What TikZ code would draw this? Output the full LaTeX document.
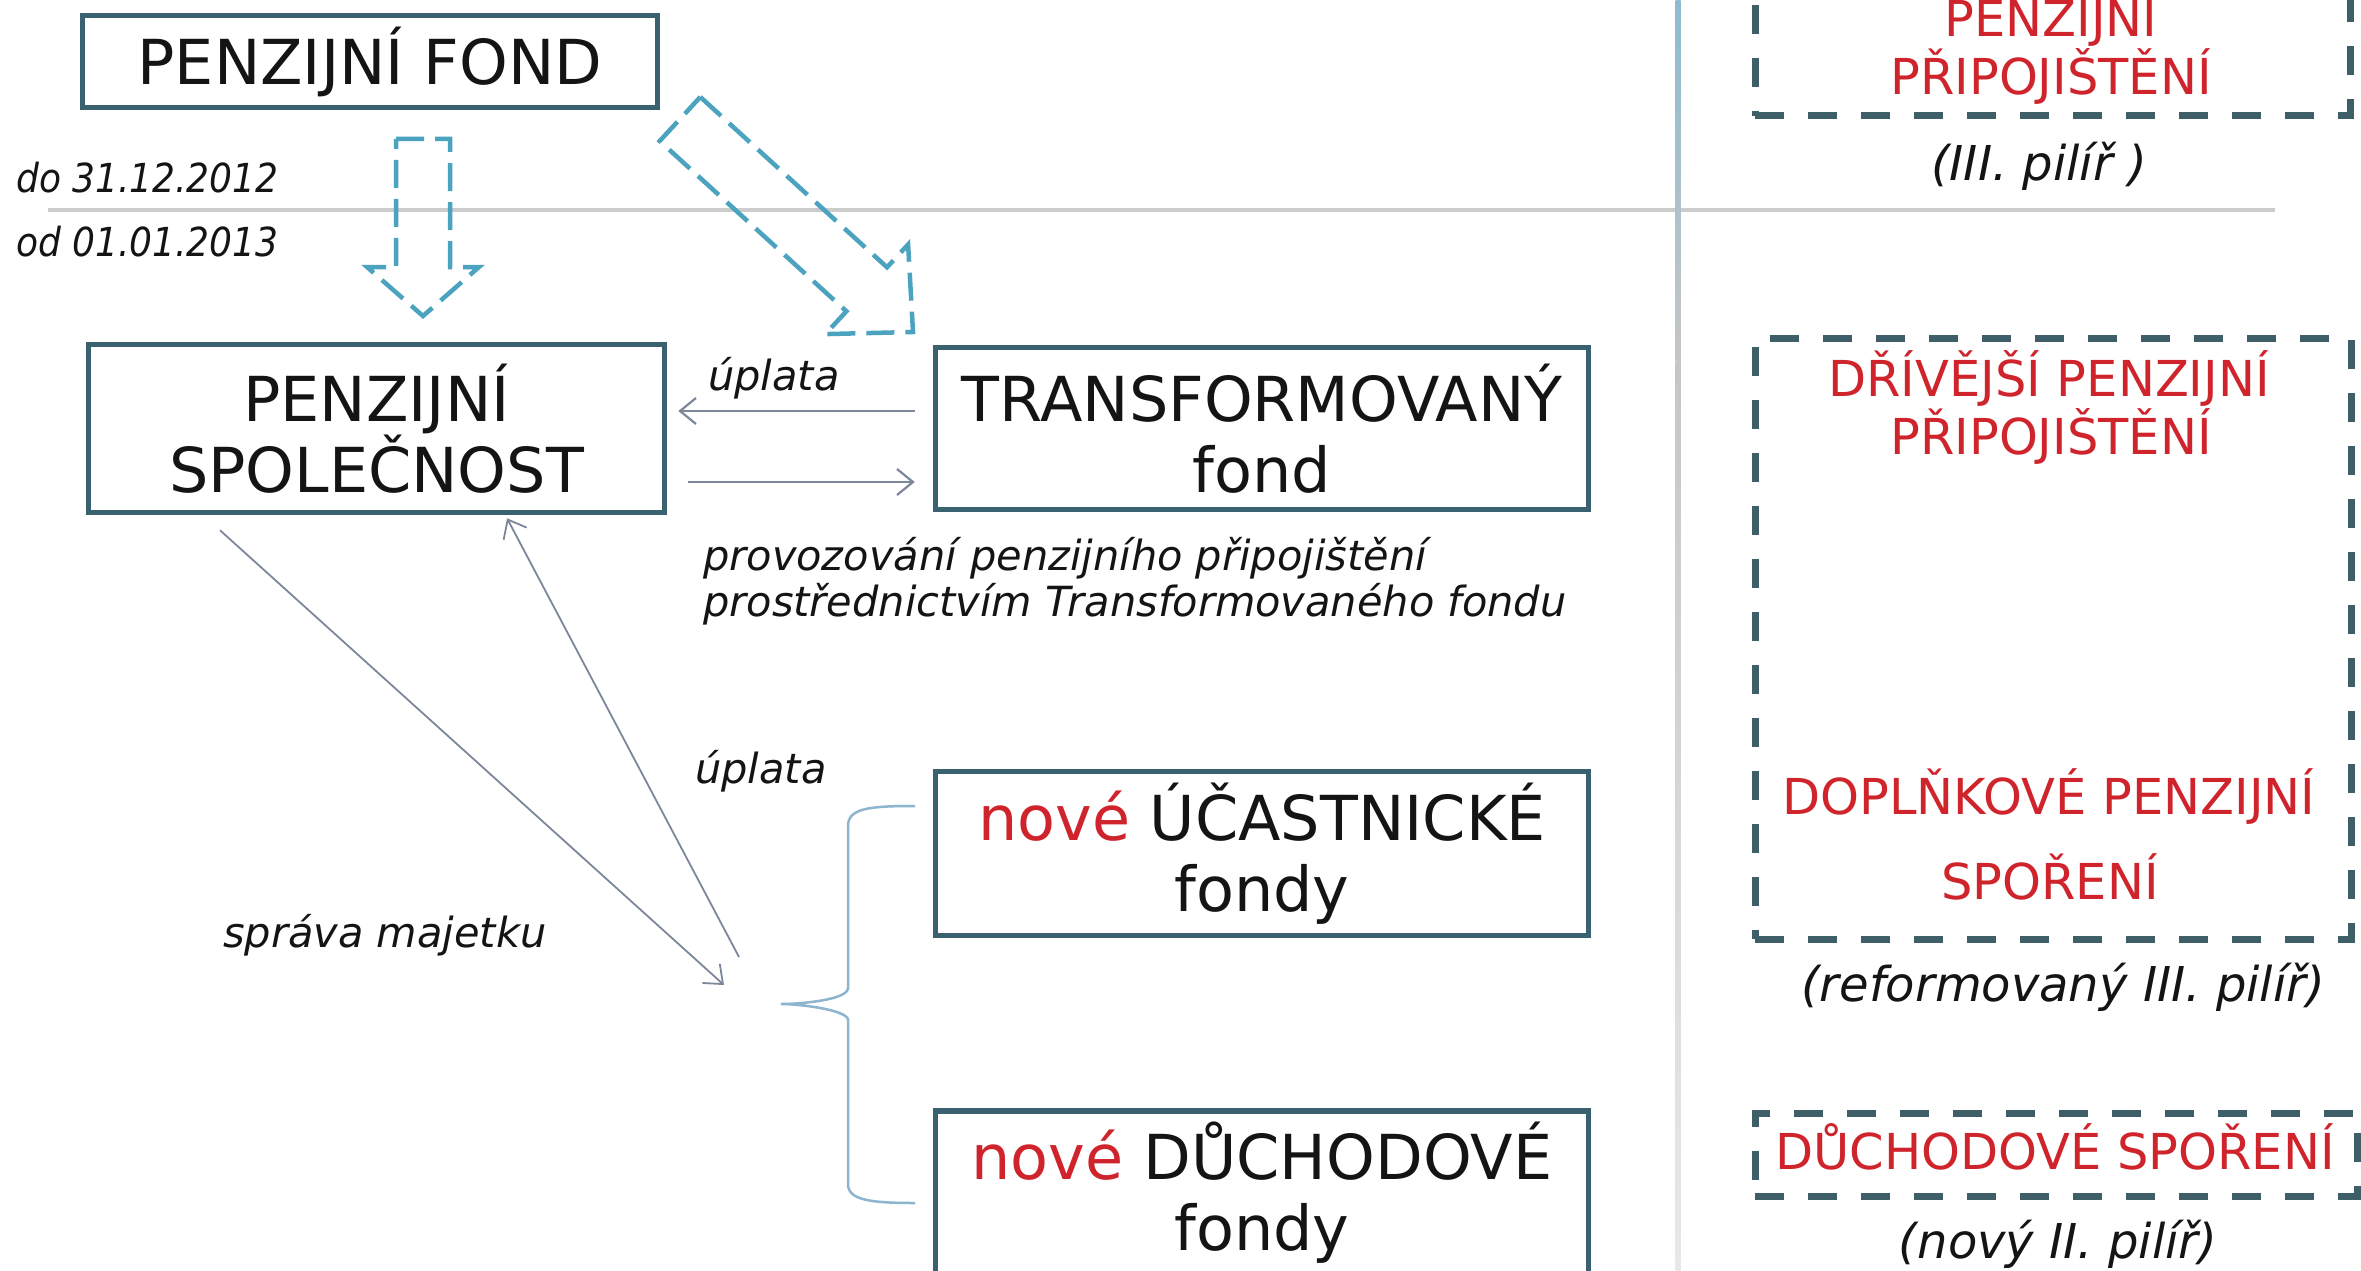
\documentclass[tikz,border=0pt]{standalone}
\usepackage{fontspec}
\setmainfont{DejaVu Sans}
\newfontfamily\condfont{DejaVu Sans Condensed}
\usetikzlibrary{arrows.meta,calc}
\definecolor{boxline}{HTML}{3A6170}
\definecolor{dashblue}{HTML}{4BA3C0}
\definecolor{dashbox}{HTML}{3E5E68}
\definecolor{redtxt}{HTML}{D0242C}
\definecolor{arrowgray}{HTML}{7D879B}
\definecolor{bracecol}{HTML}{8DB5D0}
\definecolor{sepgray}{HTML}{CCCCCC}
\definecolor{txt}{HTML}{141414}
\definecolor{vblue}{HTML}{8CBCD0}
\begin{document}
\begin{tikzpicture}[x=1pt,y=-1pt,
  solidbox/.style={draw=boxline,line width=5.5pt,inner sep=0pt,align=center,text=txt,
    font=\fontsize{62}{71}\selectfont},
  dashedbox/.style={draw=dashbox,line width=7pt,dash pattern=on 29pt off 24pt,inner sep=0pt},
  redlabel/.style={text=redtxt,font=\fontsize{49.5}{58}\selectfont,inner sep=0pt,anchor=base},
  itlabel/.style={text=txt,font=\itshape\fontsize{41.5}{45}\selectfont,inner sep=0pt,anchor=base west},
  pillabel/.style={text=txt,font=\itshape\fontsize{48}{52}\selectfont,inner sep=0pt},
  datelabel/.style={text=txt,font=\condfont\itshape\fontsize{40}{44}\selectfont,inner sep=0pt,anchor=base west},
  thinarrow/.style={draw=arrowgray,line width=2.2pt,-{Straight Barb[length=16pt,width=26pt]}},
  blockarrow/.style={draw=dashblue,line width=4.5pt,dash pattern=on 28pt off 11pt,line join=miter},
]
\useasboundingbox (0,0) rectangle (2361,1271);
\clip (0,0) rectangle (2361,1271);
\fill[white] (0,0) rectangle (2361,1271);

% separators
\draw[sepgray,line width=3.5pt] (48,210) -- (2275,210);
\shade[top color=vblue, bottom color=gray!45] (1675.5,0) rectangle (1680.5,360);
\shade[top color=gray!45, bottom color=gray!18] (1675.5,360) rectangle (1680.5,1271);

% dates
\node[datelabel] (d1) at (16,192) {do 31.12.2012};
\node[datelabel] (d2) at (16,256) {od 01.01.2013};

% left boxes
\node[solidbox,minimum width=575pt,minimum height=92pt] (pf) at (370,61.5) {PENZIJNÍ FOND};
\node[solidbox,minimum width=576pt,minimum height=168pt] (spol) at (376.5,428.5) {PENZIJNÍ\\SPOLEČNOST};
\node[solidbox,minimum width=653pt,minimum height=162pt] (trans) at (1262,428.5) {TRANSFORMOVANÝ\\fond};
\node[solidbox,minimum width=653pt,minimum height=164pt] (ucast) at (1262,853.5) {\textcolor{redtxt}{nové} ÚČASTNICKÉ\\fondy};
\node[solidbox,minimum width=653pt,minimum height=164pt] (duch) at (1262,1193) {\textcolor{redtxt}{nové} DŮCHODOVÉ\\fondy};

% dashed block arrows
\draw[blockarrow] (396,139) -- (450,139) -- (450,267) -- (479,267) -- (423,316) -- (367,267) -- (396,267) -- cycle;
\draw[blockarrow] (700.3,97.0) -- (887.0,267.3) -- (908.1,244.5) -- (913,332) -- (825.3,334.1) -- (846.4,311.3) -- (659.7,141.0) -- cycle;

% thin arrows between companies and funds
\draw[thinarrow] ([xshift=-18pt,yshift=17.5pt]trans.west) -- ([xshift=11pt,yshift=17.5pt]spol.east);
\draw[thinarrow] ([xshift=21pt,yshift=-53.5pt]spol.east) -- ([xshift=-18pt,yshift=-53.5pt]trans.west);
\node[itlabel] (upl1) at (708,390) {úplata};

\node[itlabel] (prov1) at (703,570) {provozování penzijního připojištění};
\node[itlabel] (prov2) at (703,616) {prostřednictvím Transformovaného fondu};

% brace
\coordinate (bracetip) at (781,1004);
\draw[bracecol,line width=2.5pt] (915,806) .. controls (870,806) and (848,808) .. (848,826) -- (848,988) .. controls (848,1000) and (800,1004) .. (bracetip) .. controls (800,1004) and (848,1010) .. (848,1020) -- (848,1184) .. controls (848,1200) and (870,1203) .. (915,1203);

% management and fee arrows
\coordinate (mjend) at (724,985);
\coordinate (uplstart) at (739,957);
\draw[thinarrow,line width=1.8pt] ([xshift=-156.5pt,yshift=-15pt]spol.south) -- (mjend);
\draw[thinarrow,line width=1.8pt] (uplstart) -- ([xshift=130.5pt,yshift=-3pt]spol.south);
\node[itlabel] (upl2) at (695,783) {úplata};
\node[itlabel] (sprava) at (223,947) {správa majetku};

% right column
\node[dashedbox,minimum width=595pt,minimum height=176pt] (box3) at (2052.5,28) {};
\node[redlabel] (r1a) at (2051,37) {PENZIJNÍ};
\node[redlabel] (r1b) at (2051,95) {PŘIPOJIŠTĚNÍ};
\node[pillabel] (p1) at (2039,166) {(III. pilíř )};

\node[dashedbox,minimum width=596pt,minimum height=601pt] (boxref) at (2053,638.5) {};
\node[redlabel] (r2a) at (2049,396) {DŘÍVĚJŠÍ PENZIJNÍ};
\node[redlabel] (r2b) at (2051,454) {PŘIPOJIŠTĚNÍ};
\node[redlabel] (r3a) at (2049,814) {DOPLŇKOVÉ PENZIJNÍ};
\node[redlabel] (r3b) at (2050,899) {SPOŘENÍ};
\node[pillabel] (p2) at (2063,987) {(reformovaný III. pilíř)};

\node[dashedbox,minimum width=602pt,minimum height=83pt] (box2) at (2056,1154.5) {};
\node[redlabel] (r4) at (2055,1169) {DŮCHODOVÉ SPOŘENÍ};
\node[pillabel] (p3) at (2058,1244) {(nový II. pilíř)};
\end{tikzpicture}
\end{document}
